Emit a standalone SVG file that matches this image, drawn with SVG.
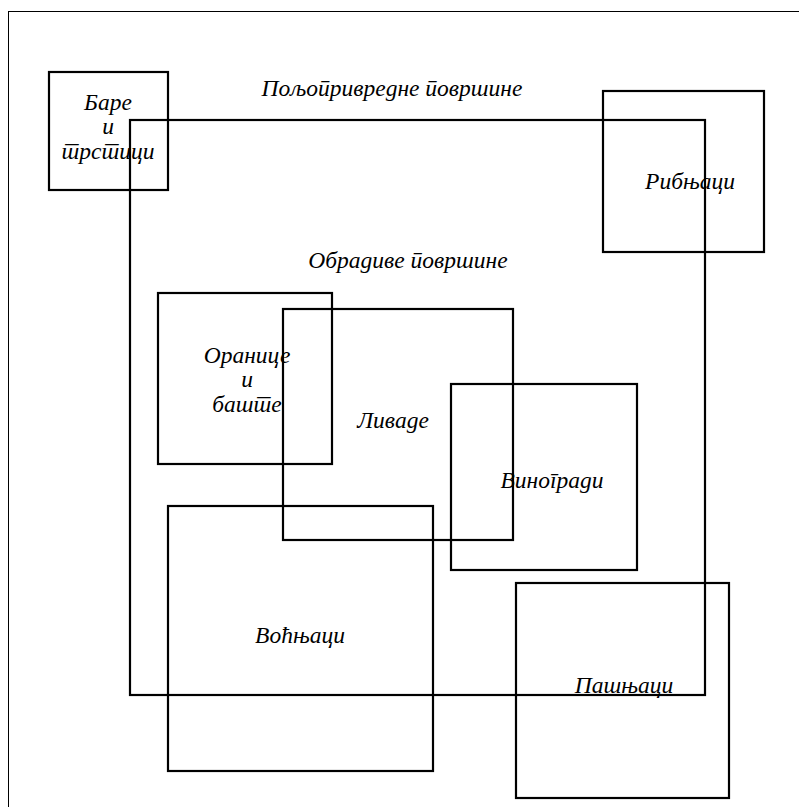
<svg xmlns="http://www.w3.org/2000/svg" width="799" height="807" viewBox="0 0 799 807" xml:lang="sr">
<style>
.box{fill:none;stroke:#000;stroke-width:2.2}
.frame{fill:none;stroke:#000;stroke-width:1}
text{font-family:"Liberation Serif","DejaVu Serif",serif;font-style:italic;font-size:23.5px;fill:#000;text-anchor:middle}
</style>
<rect width="799" height="807" fill="#fff"/>
<rect class="frame" x="8.5" y="11.5" width="800" height="810"/>
<g id="polj">
<rect class="box" x="130" y="120" width="575" height="575"/>
<text x="392" y="96">Пољопривредне површине</text>
</g>
<g id="obradive">
<text x="408" y="268">Обрадиве површине</text>
</g>
<g id="bare">
<rect class="box" x="49" y="72" width="119" height="118"/>
<text x="108" y="110">Баре</text>
<text x="108" y="134">и</text>
<text x="108" y="159">трстици</text>
</g>
<g id="ribnjaci">
<rect class="box" x="603" y="91" width="161" height="161"/>
<text x="690" y="189">Рибњаци</text>
</g>
<g id="oranice">
<rect class="box" x="158" y="293" width="174" height="171"/>
<text x="247" y="363">Оранице</text>
<text x="247" y="387">и</text>
<text x="247" y="412">баште</text>
</g>
<g id="livade">
<rect class="box" x="283" y="309" width="230" height="231"/>
<text x="393" y="428">Ливаде</text>
</g>
<g id="vinogradi">
<rect class="box" x="451" y="384" width="186" height="186"/>
<text x="552" y="488">Виногради</text>
</g>
<g id="vocnjaci">
<rect class="box" x="168" y="506" width="265" height="265"/>
<text x="300" y="643">Воћњаци</text>
</g>
<g id="pasnjaci">
<rect class="box" x="516" y="583" width="213" height="215"/>
<text x="624" y="693">Пашњаци</text>
</g>
<g id="connectors"></g>
</svg>
